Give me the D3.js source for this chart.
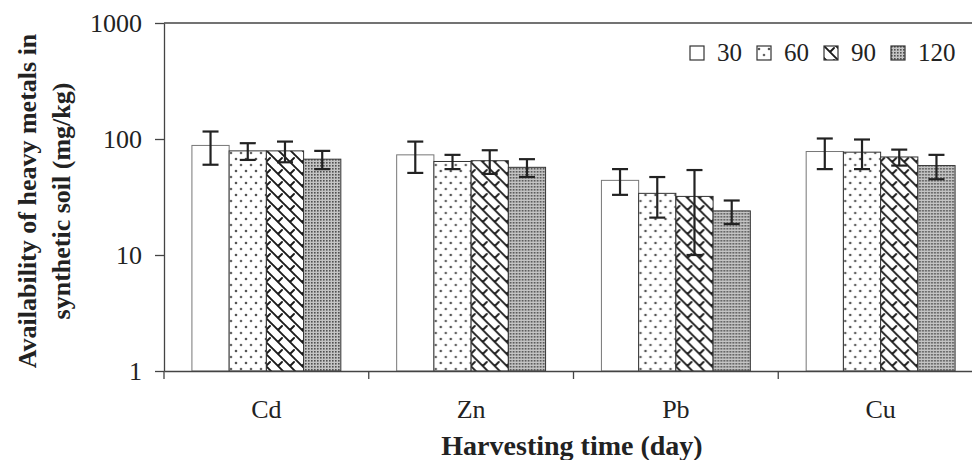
<!DOCTYPE html>
<html lang="en">
<head>
<meta charset="utf-8">
<script src="https://d3js.org/d3.v7.min.js"></script>
<style>
  body { margin: 0; background: #fff; }
  text { font-family: "Liberation Serif", "Times New Roman", serif; fill: #222; }
</style>
</head>
<body>
<div id="chart"></div>
<script>
// data
var metals = ["Cd", "Zn", "Pb", "Cu"];
var days = ["30", "60", "90", "120"];
var mean30  = [88, 73, 44, 78];
var mean60  = [79, 64, 34, 77];
var mean90  = [79, 65, 32, 70];
var mean120 = [67, 57, 24, 59];
var err30  = [28, 22, 11, 23];
var err60  = [13, 9, 13, 22];
var err90  = [16, 15, 22, 11];
var err120 = [12, 10, 5.5, 14];
var yTicks = [1, 10, 100, 1000];

var means = [mean30, mean60, mean90, mean120];
var errs = [err30, err60, err90, err120];

var W = 972, H = 460;
var pLeft = 164, pRight = 983, pTop = 23, pBottom = 371;

var svg = d3.select("#chart").append("svg")
    .attr("width", W).attr("height", H);

// fill patterns
var defs = svg.append("defs");

var p60 = defs.append("pattern").attr("id", "p60")
    .attr("patternUnits", "userSpaceOnUse").attr("width", 10).attr("height", 12);
p60.append("rect").attr("width", 10).attr("height", 12).attr("fill", "#fff");
p60.append("circle").attr("cx", 2).attr("cy", 3).attr("r", 1.3).attr("fill", "#555");
p60.append("circle").attr("cx", 7).attr("cy", 9).attr("r", 1.3).attr("fill", "#666");

// shingle-like weave
var p90 = defs.append("pattern").attr("id", "p90")
    .attr("patternUnits", "userSpaceOnUse").attr("width", 12).attr("height", 12);
p90.append("rect").attr("width", 12).attr("height", 12).attr("fill", "#fff");
p90.append("path")
    .attr("d", "M0,0 L12,12 M-1,11 L1,13 M11,-1 L13,1 M6,6 L10,2 M0,12 L-2,14")
    .attr("stroke", "#1a1a1a").attr("stroke-width", 1.9).attr("fill", "none")
    .attr("stroke-linecap", "round");

var p120 = defs.append("pattern").attr("id", "p120")
    .attr("patternUnits", "userSpaceOnUse").attr("width", 3).attr("height", 3);
p120.append("rect").attr("width", 3).attr("height", 3).attr("fill", "#c4c4c4");
p120.append("rect").attr("width", 1.6).attr("height", 1.6).attr("fill", "#505050");

var fills = ["#fff", "url(#p60)", "url(#p90)", "url(#p120)"];

// scales
var x0 = d3.scaleBand().domain(metals).range([pLeft, pRight]).padding(0);
var x1 = d3.scaleBand().domain(days).range([0, x0.bandwidth()])
    .paddingInner(0).paddingOuter(0.75);
var y = d3.scaleLog().domain([1, 1000]).range([pBottom, pTop]);

// plot frame top
svg.append("line")
    .attr("x1", pLeft).attr("x2", pRight).attr("y1", pTop).attr("y2", pTop)
    .attr("stroke", "#444").attr("stroke-width", 1.3);

// bars
var groups = svg.selectAll("g.grp")
    .data(metals)
    .enter().append("g")
    .attr("class", "grp")
    .attr("transform", function(d) { return "translate(" + x0(d) + ",0)"; });

days.forEach(function(day, j) {
    groups.append("rect")
        .attr("x", x1(day))
        .attr("y", function(d, i) { return y(means[j][i]); })
        .attr("width", x1.bandwidth())
        .attr("height", function(d, i) { return pBottom - y(means[j][i]); })
        .attr("fill", fills[j])
        .attr("stroke", j == 0 ? "#777" : "#333")
        .attr("stroke-width", 1);
});

// error bars
days.forEach(function(day, j) {
    var cx = x1(day) + x1.bandwidth() / 2;
    groups.each(function(d, i) {
        var g = d3.select(this);
        var hi = y(means[j][i] + errs[j][i]);
        var lo = y(means[j][i] - errs[j][i]);
        g.append("line").attr("x1", cx).attr("x2", cx).attr("y1", hi).attr("y2", lo)
            .attr("stroke", "#222").attr("stroke-width", 2.2);
        g.append("line").attr("x1", cx - 8).attr("x2", cx + 8).attr("y1", hi).attr("y2", hi)
            .attr("stroke", "#222").attr("stroke-width", 2.2);
        g.append("line").attr("x1", cx - 8).attr("x2", cx + 8).attr("y1", lo).attr("y2", lo)
            .attr("stroke", "#222").attr("stroke-width", 2.2);
    });
});

// y axis
var yAxis = svg.append("g")
    .attr("transform", "translate(" + pLeft + ",0)")
    .call(d3.axisLeft(y).tickValues(yTicks).tickFormat(d3.format("d"))
        .tickSize(9).tickSizeOuter(0).tickPadding(13));
yAxis.select(".domain").attr("stroke", "#444").attr("stroke-width", 1.3);
yAxis.selectAll(".tick line").attr("stroke", "#444").attr("stroke-width", 1.3);
yAxis.selectAll(".tick text")
    .attr("font-family", "Liberation Serif").attr("font-size", 26).attr("fill", "#222")
    .attr("dy", "0.34em");

// x axis
var xAxis = svg.append("g")
    .attr("transform", "translate(0," + pBottom + ")")
    .call(d3.axisBottom(x0).tickSize(0).tickSizeOuter(0).tickPadding(29));
xAxis.select(".domain").attr("stroke", "#444").attr("stroke-width", 1.3);
xAxis.selectAll(".tick text")
    .attr("font-family", "Liberation Serif").attr("font-size", 26).attr("fill", "#222");
xAxis.selectAll("line.sep")
    .data(metals)
    .enter().append("line")
    .attr("class", "sep")
    .attr("x1", function(d) { return x0(d); })
    .attr("x2", function(d) { return x0(d); })
    .attr("y1", 0).attr("y2", 8)
    .attr("stroke", "#444").attr("stroke-width", 1.3);

// axis titles
svg.append("text")
    .attr("x", 572).attr("y", 455)
    .attr("text-anchor", "middle")
    .attr("font-size", 28).attr("font-weight", "bold")
    .text("Harvesting time (day)");

var yt = svg.append("text")
    .attr("transform", "translate(0,201) rotate(-90)")
    .attr("text-anchor", "middle")
    .attr("font-size", 26).attr("font-weight", "bold");
yt.append("tspan").attr("x", 0).attr("y", 36).text("Availability of heavy metals in");
yt.append("tspan").attr("x", 0).attr("y", 70).text("synthetic soil (mg/kg)");

// legend
var legend = svg.selectAll("g.leg")
    .data(days)
    .enter().append("g")
    .attr("class", "leg")
    .attr("transform", function(d, i) { return "translate(" + (690 + i * 67) + ",46)"; });
legend.append("rect")
    .attr("width", 14).attr("height", 14)
    .attr("fill", function(d, i) { return fills[i]; })
    .attr("stroke", "#333").attr("stroke-width", 1.2);
legend.append("text")
    .attr("x", 27).attr("y", 15)
    .attr("font-size", 25)
    .text(function(d) { return d; });
</script>
</body>
</html>
